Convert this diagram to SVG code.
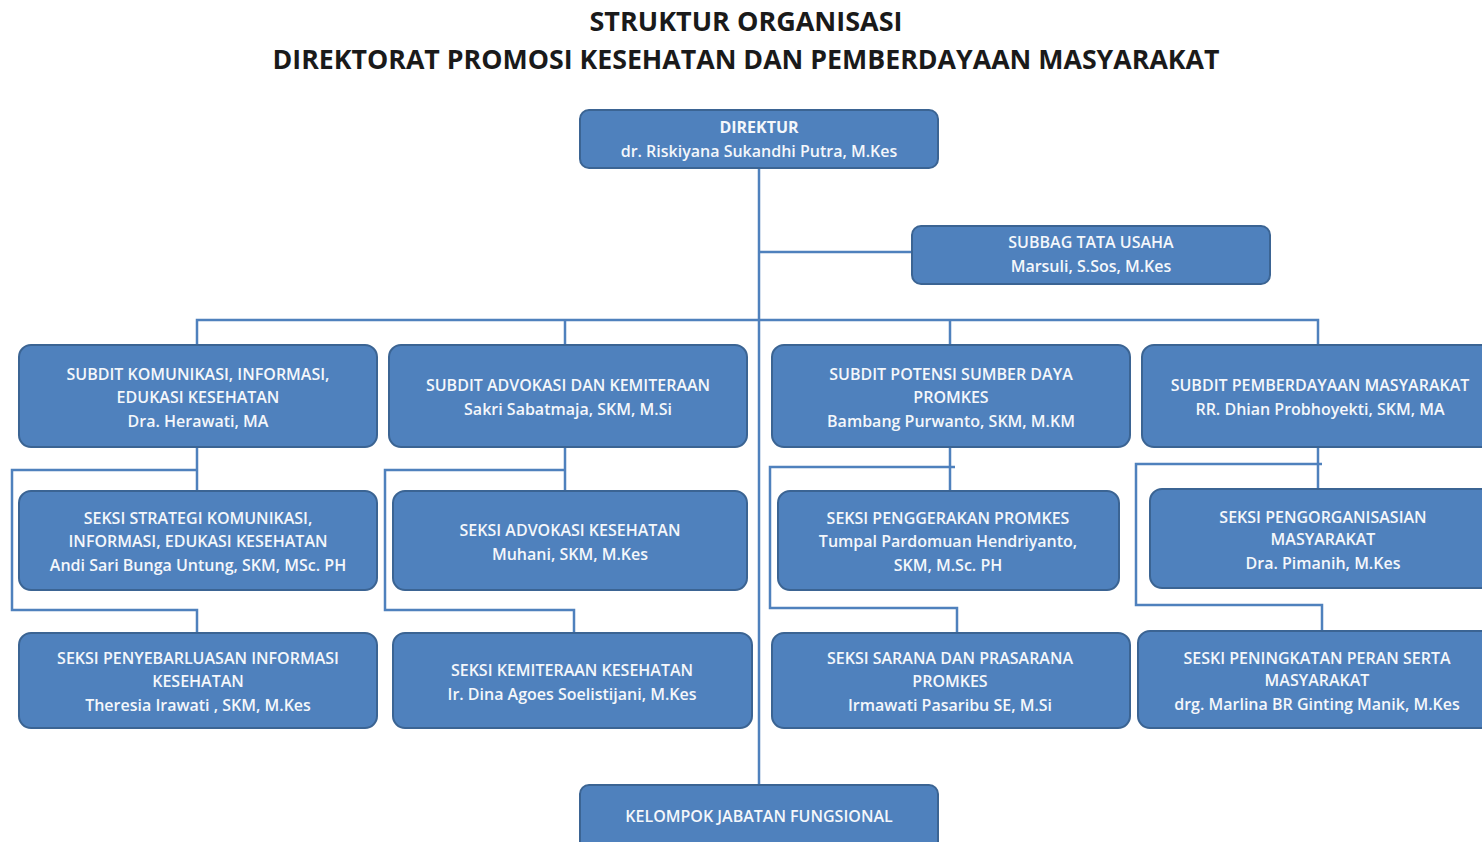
<svg xmlns="http://www.w3.org/2000/svg" width="1482" height="842" viewBox="0 0 1482 842">
<style>
.box{fill:#4f81bd;stroke:#3b6493;stroke-width:2}
.t{font-family:"Open Sans","Liberation Sans",sans-serif;font-size:16px;font-weight:600;fill:#f4f7fb;text-anchor:middle}
.b{font-weight:bold}
.title{font-family:"Open Sans","Liberation Sans",sans-serif;font-size:26px;font-weight:bold;fill:#1a1a1a;text-anchor:middle}
.ln{fill:none;stroke:#4f81bd;stroke-width:2.5}
</style>
<rect width="1482" height="842" fill="#ffffff"/>
<g id="title">
<text class="title" x="746" y="31" textLength="313" lengthAdjust="spacingAndGlyphs">STRUKTUR ORGANISASI</text>
<text class="title" x="746" y="69" textLength="947" lengthAdjust="spacingAndGlyphs">DIREKTORAT PROMOSI KESEHATAN DAN PEMBERDAYAAN MASYARAKAT</text>
</g>
<g id="connectors">
<path class="ln" d="M759 168V785"/>
<path class="ln" d="M759 252H912"/>
<path class="ln" d="M197 345V320H1318V345M565 320V345M950 320V345"/>
<path class="ln" d="M197 447V491M197 470H12V610H197V633"/>
<path class="ln" d="M565 447V491M565 470H385V610H574V633"/>
<path class="ln" d="M950 447V491M955 467H770V608H957V633"/>
<path class="ln" d="M1318 447V489M1322 464H1136V605H1322V631"/>
</g>
<g id="direktur">
<rect class="box" x="580" y="110" width="358" height="58" rx="9"/>
<text class="t b" x="759" y="133">DIREKTUR</text>
<text class="t" x="759" y="157">dr. Riskiyana Sukandhi Putra, M.Kes</text>
</g>
<g id="subbag">
<rect class="box" x="912" y="226" width="358" height="58" rx="9"/>
<text class="t" x="1091" y="248">SUBBAG TATA USAHA</text>
<text class="t" x="1091" y="272">Marsuli, S.Sos, M.Kes</text>
</g>
<g id="subdit-kie">
<rect class="box" x="19" y="345" width="358" height="102" rx="12"/>
<text class="t" x="198" y="380">SUBDIT KOMUNIKASI, INFORMASI,</text>
<text class="t" x="198" y="403">EDUKASI KESEHATAN</text>
<text class="t" x="198" y="427">Dra. Herawati, MA</text>
</g>
<g id="subdit-advokasi">
<rect class="box" x="389" y="345" width="358" height="102" rx="12"/>
<text class="t" x="568" y="391">SUBDIT ADVOKASI DAN KEMITERAAN</text>
<text class="t" x="568" y="415">Sakri Sabatmaja, SKM, M.Si</text>
</g>
<g id="subdit-potensi">
<rect class="box" x="772" y="345" width="358" height="102" rx="12"/>
<text class="t" x="951" y="380">SUBDIT POTENSI SUMBER DAYA</text>
<text class="t" x="951" y="403">PROMKES</text>
<text class="t" x="951" y="427">Bambang Purwanto, SKM, M.KM</text>
</g>
<g id="subdit-pemberdayaan">
<rect class="box" x="1142" y="345" width="358" height="102" rx="12"/>
<text class="t" x="1320" y="391">SUBDIT PEMBERDAYAAN MASYARAKAT</text>
<text class="t" x="1320" y="415">RR. Dhian Probhoyekti, SKM, MA</text>
</g>
<g id="seksi-strategi">
<rect class="box" x="19" y="491" width="358" height="99" rx="12"/>
<text class="t" x="198" y="524">SEKSI STRATEGI KOMUNIKASI,</text>
<text class="t" x="198" y="547">INFORMASI, EDUKASI KESEHATAN</text>
<text class="t" x="198" y="571">Andi Sari Bunga Untung, SKM, MSc. PH</text>
</g>
<g id="seksi-advokasi">
<rect class="box" x="393" y="491" width="354" height="99" rx="12"/>
<text class="t" x="570" y="536">SEKSI ADVOKASI KESEHATAN</text>
<text class="t" x="570" y="560">Muhani, SKM, M.Kes</text>
</g>
<g id="seksi-penggerakan">
<rect class="box" x="778" y="491" width="341" height="99" rx="12"/>
<text class="t" x="948" y="524">SEKSI PENGGERAKAN PROMKES</text>
<text class="t" x="948" y="547">Tumpal Pardomuan Hendriyanto,</text>
<text class="t" x="948" y="571">SKM, M.Sc. PH</text>
</g>
<g id="seksi-pengorganisasian">
<rect class="box" x="1150" y="489" width="350" height="99" rx="12"/>
<text class="t" x="1323" y="523">SEKSI PENGORGANISASIAN</text>
<text class="t" x="1323" y="545">MASYARAKAT</text>
<text class="t" x="1323" y="569">Dra. Pimanih, M.Kes</text>
</g>
<g id="seksi-penyebarluasan">
<rect class="box" x="19" y="633" width="358" height="95" rx="12"/>
<text class="t" x="198" y="664">SEKSI PENYEBARLUASAN INFORMASI</text>
<text class="t" x="198" y="687">KESEHATAN</text>
<text class="t" x="198" y="711">Theresia Irawati , SKM, M.Kes</text>
</g>
<g id="seksi-kemiteraan">
<rect class="box" x="393" y="633" width="359" height="95" rx="12"/>
<text class="t" x="572" y="676">SEKSI KEMITERAAN KESEHATAN</text>
<text class="t" x="572" y="700">Ir. Dina Agoes Soelistijani, M.Kes</text>
</g>
<g id="seksi-sarana">
<rect class="box" x="772" y="633" width="358" height="95" rx="12"/>
<text class="t" x="950" y="664">SEKSI SARANA DAN PRASARANA</text>
<text class="t" x="950" y="687">PROMKES</text>
<text class="t" x="950" y="711">Irmawati Pasaribu SE, M.Si</text>
</g>
<g id="seksi-peningkatan">
<rect class="box" x="1138" y="631" width="362" height="97" rx="12"/>
<text class="t" x="1317" y="664">SESKI PENINGKATAN PERAN SERTA</text>
<text class="t" x="1317" y="686">MASYARAKAT</text>
<text class="t" x="1317" y="710">drg. Marlina BR Ginting Manik, M.Kes</text>
</g>
<g id="kelompok">
<rect class="box" x="580" y="785" width="358" height="70" rx="9"/>
<text class="t" x="759" y="822">KELOMPOK JABATAN FUNGSIONAL</text>
</g>
</svg>
